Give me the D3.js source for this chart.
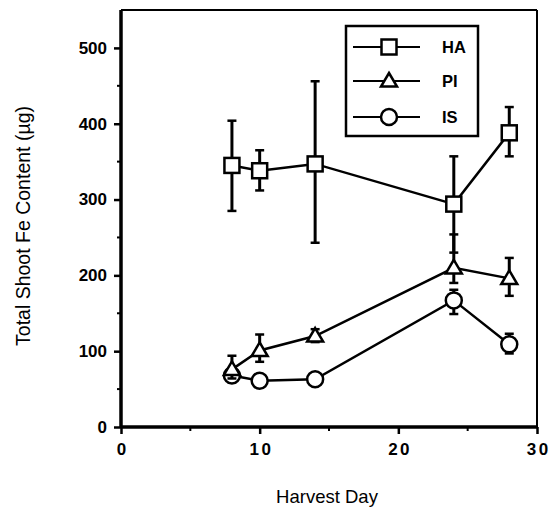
<!DOCTYPE html>
<html>
<head>
<meta charset="UTF-8">
<script src="https://d3js.org/d3.v7.min.js"></script>
<style>
  body { margin: 0; background: #fff; }
  svg text { font-family: 'Liberation Sans', Arial, sans-serif; fill: #000; }
</style>
</head>
<body>
<svg id="chart" width="556" height="510"></svg>
<script>
// --- Data ---
const days = [8, 10, 14, 24, 28];
const haMean = [345, 338, 347, 294, 388];
const haLow  = [285, 312, 243, 230, 357];
const haHigh = [404, 365, 456, 357, 422];
const piMean = [76, 101, 120, 210, 196];
const piLow  = [64, 86, 112, 190, 173];
const piHigh = [94, 122, 129, 254, 223];
const isMean = [68, 61, 63, 167, 109];
const isLow  = [59, 57, 59, 149, 97];
const isHigh = [75, 65, 67, 181, 123];
const xTicks = [0, 10, 20, 30];
const yTicks = [0, 100, 200, 300, 400, 500];

const series = [
  { name: 'HA', symbol: 'square', mean: haMean, low: haLow, high: haHigh },
  { name: 'PI', symbol: 'triangle', mean: piMean, low: piLow, high: piHigh },
  { name: 'IS', symbol: 'circle', mean: isMean, low: isLow, high: isHigh }
];

const svg = d3.select('#chart');
const plotLeft = 121, plotRight = 537, plotTop = 10, plotBottom = 427;

const x = d3.scaleLinear().domain([0, 30]).range([plotLeft, plotRight]);
const y = d3.scaleLinear().domain([0, 550]).range([plotBottom, plotTop]);

// frame
svg.append('line').attr('x1', plotLeft).attr('x2', plotRight).attr('y1', plotTop).attr('y2', plotTop)
  .attr('stroke', '#000').attr('stroke-width', 2);
svg.append('line').attr('x1', plotRight).attr('x2', plotRight).attr('y1', plotTop).attr('y2', plotBottom)
  .attr('stroke', '#000').attr('stroke-width', 2);

// axes
const xAxis = svg.append('g').attr('transform', `translate(0,${plotBottom})`)
  .call(d3.axisBottom(x).tickValues(xTicks).tickSize(7).tickPadding(9).tickFormat(d3.format('d')));
const yAxis = svg.append('g').attr('transform', `translate(${plotLeft},0)`)
  .call(d3.axisLeft(y).tickValues(yTicks).tickSize(7).tickPadding(7));

[xAxis, yAxis].forEach(g => {
  g.attr('font-size', null).attr('font-family', null);
  g.select('.domain').attr('stroke-width', 3.5);
  g.selectAll('.tick line').attr('stroke-width', 2.5);
  g.selectAll('.tick text').style('font-size', '17px').style('font-weight', 'bold');
});
xAxis.selectAll('.tick text').style('letter-spacing', '2.5px').attr('dx', '1.25px');
xAxis.select('.domain').attr('d', `M${plotLeft},0H${plotRight}`);
yAxis.select('.domain').attr('d', `M0,${plotBottom}V${plotTop}`);

// minor ticks
svg.append('g').selectAll('line').data([5, 15, 25]).join('line')
  .attr('x1', d => x(d)).attr('x2', d => x(d))
  .attr('y1', plotBottom).attr('y2', plotBottom + 4)
  .attr('stroke', '#000').attr('stroke-width', 2);
svg.append('g').selectAll('line').data([50, 150, 250, 350, 450]).join('line')
  .attr('y1', d => y(d)).attr('y2', d => y(d))
  .attr('x1', plotLeft).attr('x2', plotLeft - 4)
  .attr('stroke', '#000').attr('stroke-width', 2);

// axis labels
svg.append('text').attr('x', 327).attr('y', 503).attr('text-anchor', 'middle')
  .style('font-size', '18.5px').text('Harvest Day');
svg.append('text').attr('transform', 'translate(30,226) rotate(-90)').attr('text-anchor', 'middle')
  .style('font-size', '19.5px').text('Total Shoot Fe Content (µg)');

// symbols
function drawSymbol(g, type, cx, cy) {
  if (type === 'square') {
    g.append('rect').attr('x', cx - 7.5).attr('y', cy - 7.5).attr('width', 15).attr('height', 15)
      .attr('fill', '#fff').attr('stroke', '#000').attr('stroke-width', 2.5);
  } else if (type === 'triangle') {
    const s = 8;
    g.append('path').attr('d', `M${cx},${cy - s}L${cx + s},${cy + s * 0.7}L${cx - s},${cy + s * 0.7}Z`)
      .attr('fill', '#fff').attr('stroke', '#000').attr('stroke-width', 2.5).attr('stroke-linejoin', 'miter');
  } else {
    g.append('circle').attr('cx', cx).attr('cy', cy).attr('r', 8)
      .attr('fill', '#fff').attr('stroke', '#000').attr('stroke-width', 2.5);
  }
}

const line = d3.line().x(d => x(d[0])).y(d => y(d[1]));

// draw in reverse so HA on top
series.slice().reverse().forEach(s => {
  const g = svg.append('g');
  const pts = days.map((d, i) => [d, s.mean[i]]);
  g.append('path').attr('d', line(pts)).attr('fill', 'none')
    .attr('stroke', '#000').attr('stroke-width', 2.5);
  days.forEach((d, i) => {
    const cx = x(d);
    g.append('line').attr('x1', cx).attr('x2', cx).attr('y1', y(s.low[i])).attr('y2', y(s.high[i]))
      .attr('stroke', '#000').attr('stroke-width', 3);
    [s.low[i], s.high[i]].forEach(v => {
      g.append('line').attr('x1', cx - 4.5).attr('x2', cx + 4.5).attr('y1', y(v)).attr('y2', y(v))
        .attr('stroke', '#000').attr('stroke-width', 2.5);
    });
  });
  days.forEach((d, i) => drawSymbol(g, s.symbol, x(d), y(s.mean[i])));
});

// legend
const lg = svg.append('g');
lg.append('rect').attr('x', 346).attr('y', 26).attr('width', 132).attr('height', 110)
  .attr('fill', '#fff').attr('stroke', '#000').attr('stroke-width', 2.5);
const rows = [47, 81, 117];
series.forEach((s, i) => {
  const ry = rows[i];
  lg.append('line').attr('x1', 353).attr('x2', 420).attr('y1', ry).attr('y2', ry)
    .attr('stroke', '#000').attr('stroke-width', 2);
  drawSymbol(lg, s.symbol, 389, ry);
  lg.append('text').attr('x', 442).attr('y', ry + 6).style('font-size', '16.5px').style('font-weight', 'bold')
    .text(s.name);
});
</script>
</body>
</html>
